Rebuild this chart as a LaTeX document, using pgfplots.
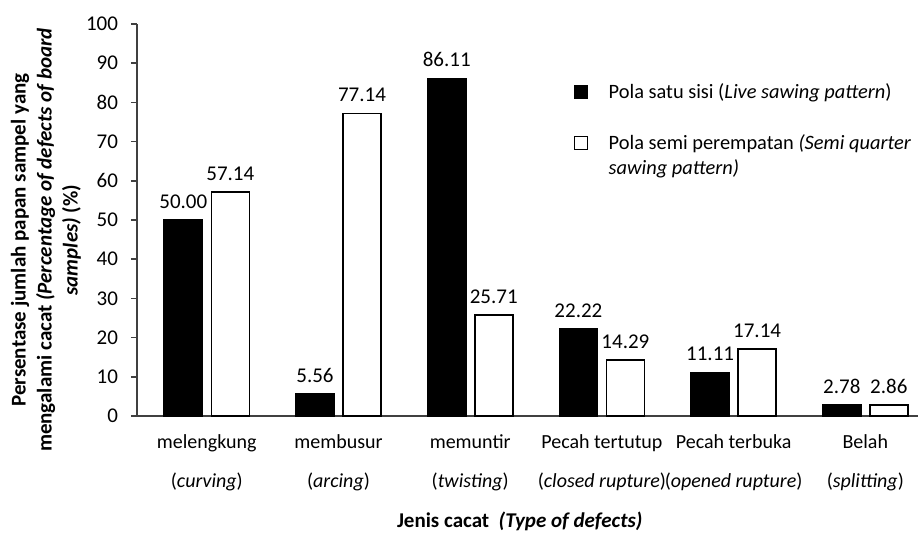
\documentclass[border=0pt]{standalone}
\usepackage{pgfplots}
\pgfplotsset{compat=1.18}
\usepackage{fontspec}
\setmainfont{Carlito}
\newcommand{\chf}{\fontsize{10.5}{13}\selectfont}
\newcommand{\chs}{\fontsize{10.2}{12.6}\selectfont}
\newcommand{\cht}{\fontsize{10}{12.4}\selectfont}
\begin{document}
\begin{tikzpicture}[font=\chf]
\begin{axis}[
  scale only axis,
  width=390.5pt, height=196pt,
  ybar=4.5pt, bar width=19pt,
  xmin=-0.53, xmax=5.40,
  ymin=0, ymax=100,
  ytick={0,10,...,100},
  xtick={0,1,2,3,4,5},
  xticklabels={{melengkung\\[6.7pt](\textit{curving})},
               {membusur\\[6.7pt](\textit{arcing})},
               {memuntir\\[6.7pt](\textit{twisting})},
               {Pecah tertutup\\[6.7pt](\textit{closed rupture})},
               {Pecah terbuka\\[6.7pt](\textit{opened rupture})},
               {Belah\\[6.7pt](\textit{splitting})}},
  xticklabel style={align=center, yshift=-3pt, font=\cht},
  yticklabel style={xshift=-3pt, font=\chf},
  axis lines*=left,
  axis line style={black!75, line width=0.8pt},
  xtick style={draw=none},
  ytick style={black!75, line width=0.8pt},
  tick align=outside,
  major tick length=3pt,
  /pgf/number format/assume math mode=true,
  nodes near coords={\pgfmathprintnumber[fixed,fixed zerofill,precision=2]{\pgfplotspointmeta}},
  every node near coord/.append style={font=\chf, black, yshift=2pt},
  every axis y label/.style={at={(rel axis cs:-0.1165,0.449)}, anchor=center, rotate=90, align=center, font=\chf\bfseries},
  every axis x label/.style={at={(rel axis cs:0.490,-0.270)}, anchor=center, font=\chf\bfseries},
  ylabel={Persentase jumlah papan sampel yang\\mengalami cacat \textit{(Percentage of defects of board}\\\textit{samples)} (\%)},
  xlabel={Jenis cacat \ \textit{(Type of defects)}},
  legend cell align=left,
  legend image code/.code={\draw[#1, line width=0.6pt] (0pt,0pt) rectangle (6.5pt,6.5pt);},
  legend style={at={(rel axis cs:0.559,0.849)}, anchor=north west, draw=none, fill=none,
    inner sep=0pt, row sep=15pt, column sep=10.25pt,
    nodes={inner sep=0pt, anchor=base west}, font=\chs},
]
\addplot[fill=black, draw=black, line width=0.8pt] coordinates {(0,50.00) (1,5.56) (2,86.11) (3,22.22) (4,11.11) (5,2.78)};
\addlegendentry{Pola satu sisi (\textit{Live sawing pattern})}
\addplot[fill=white, draw=black, line width=0.8pt] coordinates {(0,57.14) (1,77.14) (2,25.71) (3,14.29) (4,17.14) (5,2.86)};
\addlegendentry{\begin{tabular}[t]{@{}l@{}}Pola semi perempatan \textit{(Semi quarter}\\\textit{sawing pattern)}\end{tabular}}
\coordinate (O) at (rel axis cs:0,0);
\end{axis}
\pgfresetboundingbox
\useasboundingbox (O) ++(-68.5pt,-60.5pt) rectangle ++(459pt,268.5pt);
\end{tikzpicture}
\end{document}
